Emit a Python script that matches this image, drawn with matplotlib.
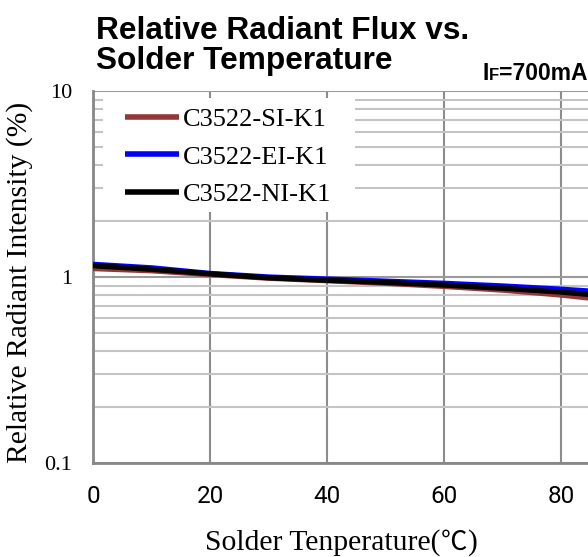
import matplotlib
matplotlib.use("Agg")
import matplotlib.pyplot as plt
from matplotlib.ticker import FixedLocator, NullFormatter
from matplotlib.font_manager import FontProperties
from matplotlib.patches import Rectangle

# ---- data ----
temperature = [0, 10, 20, 30, 40, 50, 60, 70, 80, 90]
si_k1 = [1.11, 1.08, 1.03, 0.985, 0.955, 0.925, 0.89, 0.85, 0.80, 0.74]
ei_k1 = [1.17, 1.12, 1.045, 1.00, 0.975, 0.95, 0.925, 0.895, 0.86, 0.82]
ni_k1 = [1.15, 1.10, 1.04, 0.99, 0.96, 0.935, 0.905, 0.87, 0.83, 0.78]
series_names = ["C3522-SI-K1", "C3522-EI-K1", "C3522-NI-K1"]
series_colors = ["#953735", "#0000FF", "#000000"]
x_ticks = [0, 20, 40, 60, 80]
y_ticks = [0.1, 1, 10]
y_tick_labels = ["0.1", "1", "10"]

W, H = 588, 557
fig = plt.figure(figsize=(W / 100, H / 100), dpi=100)
ax = fig.add_axes([93 / W, 1 - 463 / H, 585 / W, 372 / H])

ax.set_yscale("log")
ax.set_xlim(0, 100)
ax.set_ylim(0.1, 10)

for vals, name, col in zip([si_k1, ei_k1, ni_k1], series_names, series_colors):
    ax.plot(temperature, vals, color=col, lw=3.8, label=name, solid_capstyle="butt", zorder=3)

# ticks / grid
ax.xaxis.set_major_locator(FixedLocator(x_ticks))
ax.yaxis.set_major_locator(FixedLocator(y_ticks))
ax.set_yticklabels(y_tick_labels)
minors = [m * 10.0 ** e for e in (-1, 0) for m in range(2, 10)]
ax.yaxis.set_minor_locator(FixedLocator(minors))
ax.yaxis.set_minor_formatter(NullFormatter())
ax.tick_params(which="both", length=0)
ax.tick_params(axis="x", pad=16, labelsize=17.5)
ax.tick_params(axis="y", pad=15, labelsize=16)
for lab in ax.get_xticklabels():
    lab.set_fontfamily("Roboto")
for lab in ax.get_yticklabels():
    lab.set_fontfamily("Liberation Serif")

ax.grid(True, which="major", axis="x", color="#8c8c8c", lw=1.5)
ax.grid(True, which="major", axis="y", color="#9a9a9a", lw=1.5)
ax.grid(True, which="minor", axis="y", color="#c4c4c4", lw=1.5)
ax.set_axisbelow(True)
for s in ["top", "right"]:
    ax.spines[s].set_visible(False)
for s in ["left", "bottom"]:
    ax.spines[s].set_color("#878787")
    ax.spines[s].set_linewidth(2)

# legend background box (white, no border)
ax.add_patch(Rectangle((10 / 585, 1 - (212 - 91) / 372), 252 / 585, 114 / 372,
                       transform=ax.transAxes, facecolor="white", edgecolor="none", zorder=1.5))
leg = ax.legend(loc="upper left", bbox_to_anchor=(32 / 585, 1 - 17 / 372),
                borderaxespad=0, prop=FontProperties(family="Liberation Serif", size=19),
                handlelength=2.05, handletextpad=0.15, labelspacing=0.52,
                borderpad=0, frameon=False)
leg.set_zorder(5)
for lh in leg.get_lines():
    lh.set_linewidth(4)

# titles
fig.text(96 / W, 1 - 39 / H, "Relative Radiant Flux vs.", fontsize=22.8, fontweight="bold",
         family="Liberation Sans", va="baseline", ha="left")
fig.text(96 / W, 1 - 69 / H, "Solder Temperature", fontsize=22.8, fontweight="bold",
         family="Liberation Sans", va="baseline", ha="left")

# IF=700mA with smaller F (placed right-to-left)
renderer = fig.canvas.get_renderer()
xr = 587
t3 = fig.text(xr / W, 1 - 80 / H, "=700mA", fontsize=16.5, fontweight="bold",
              family="Liberation Sans", va="baseline", ha="right")
xr = t3.get_window_extent(renderer).x0
t2 = fig.text(xr / W, 1 - 80 / H, "F", fontsize=12, fontweight="bold",
              family="Liberation Sans", va="baseline", ha="right")
xr = t2.get_window_extent(renderer).x0
fig.text(xr / W, 1 - 80 / H, "I", fontsize=16.5, fontweight="bold",
         family="Liberation Sans", va="baseline", ha="right")

# axis labels
fig.text(20 / W, 1 - 282 / H, "Relative Radiant Intensity (%)", rotation=90,
         fontsize=21.3, family="Liberation Serif", ha="center", va="center")
xl = 205
base = 1 - 550 / H
p1 = fig.text(xl / W, base, "Solder Tenperature(", fontsize=21.3,
              family="Liberation Serif", ha="left", va="baseline")
xl = p1.get_window_extent(renderer).x1
p2 = fig.text(xl / W, base, "\u2103", fontsize=19, family="Noto Sans CJK JP",
              ha="left", va="baseline")
xl = p2.get_window_extent(renderer).x1
fig.text(xl / W, base, ")", fontsize=21.3, family="Liberation Serif", ha="left", va="baseline")

fig.savefig("out.png", dpi=100)
